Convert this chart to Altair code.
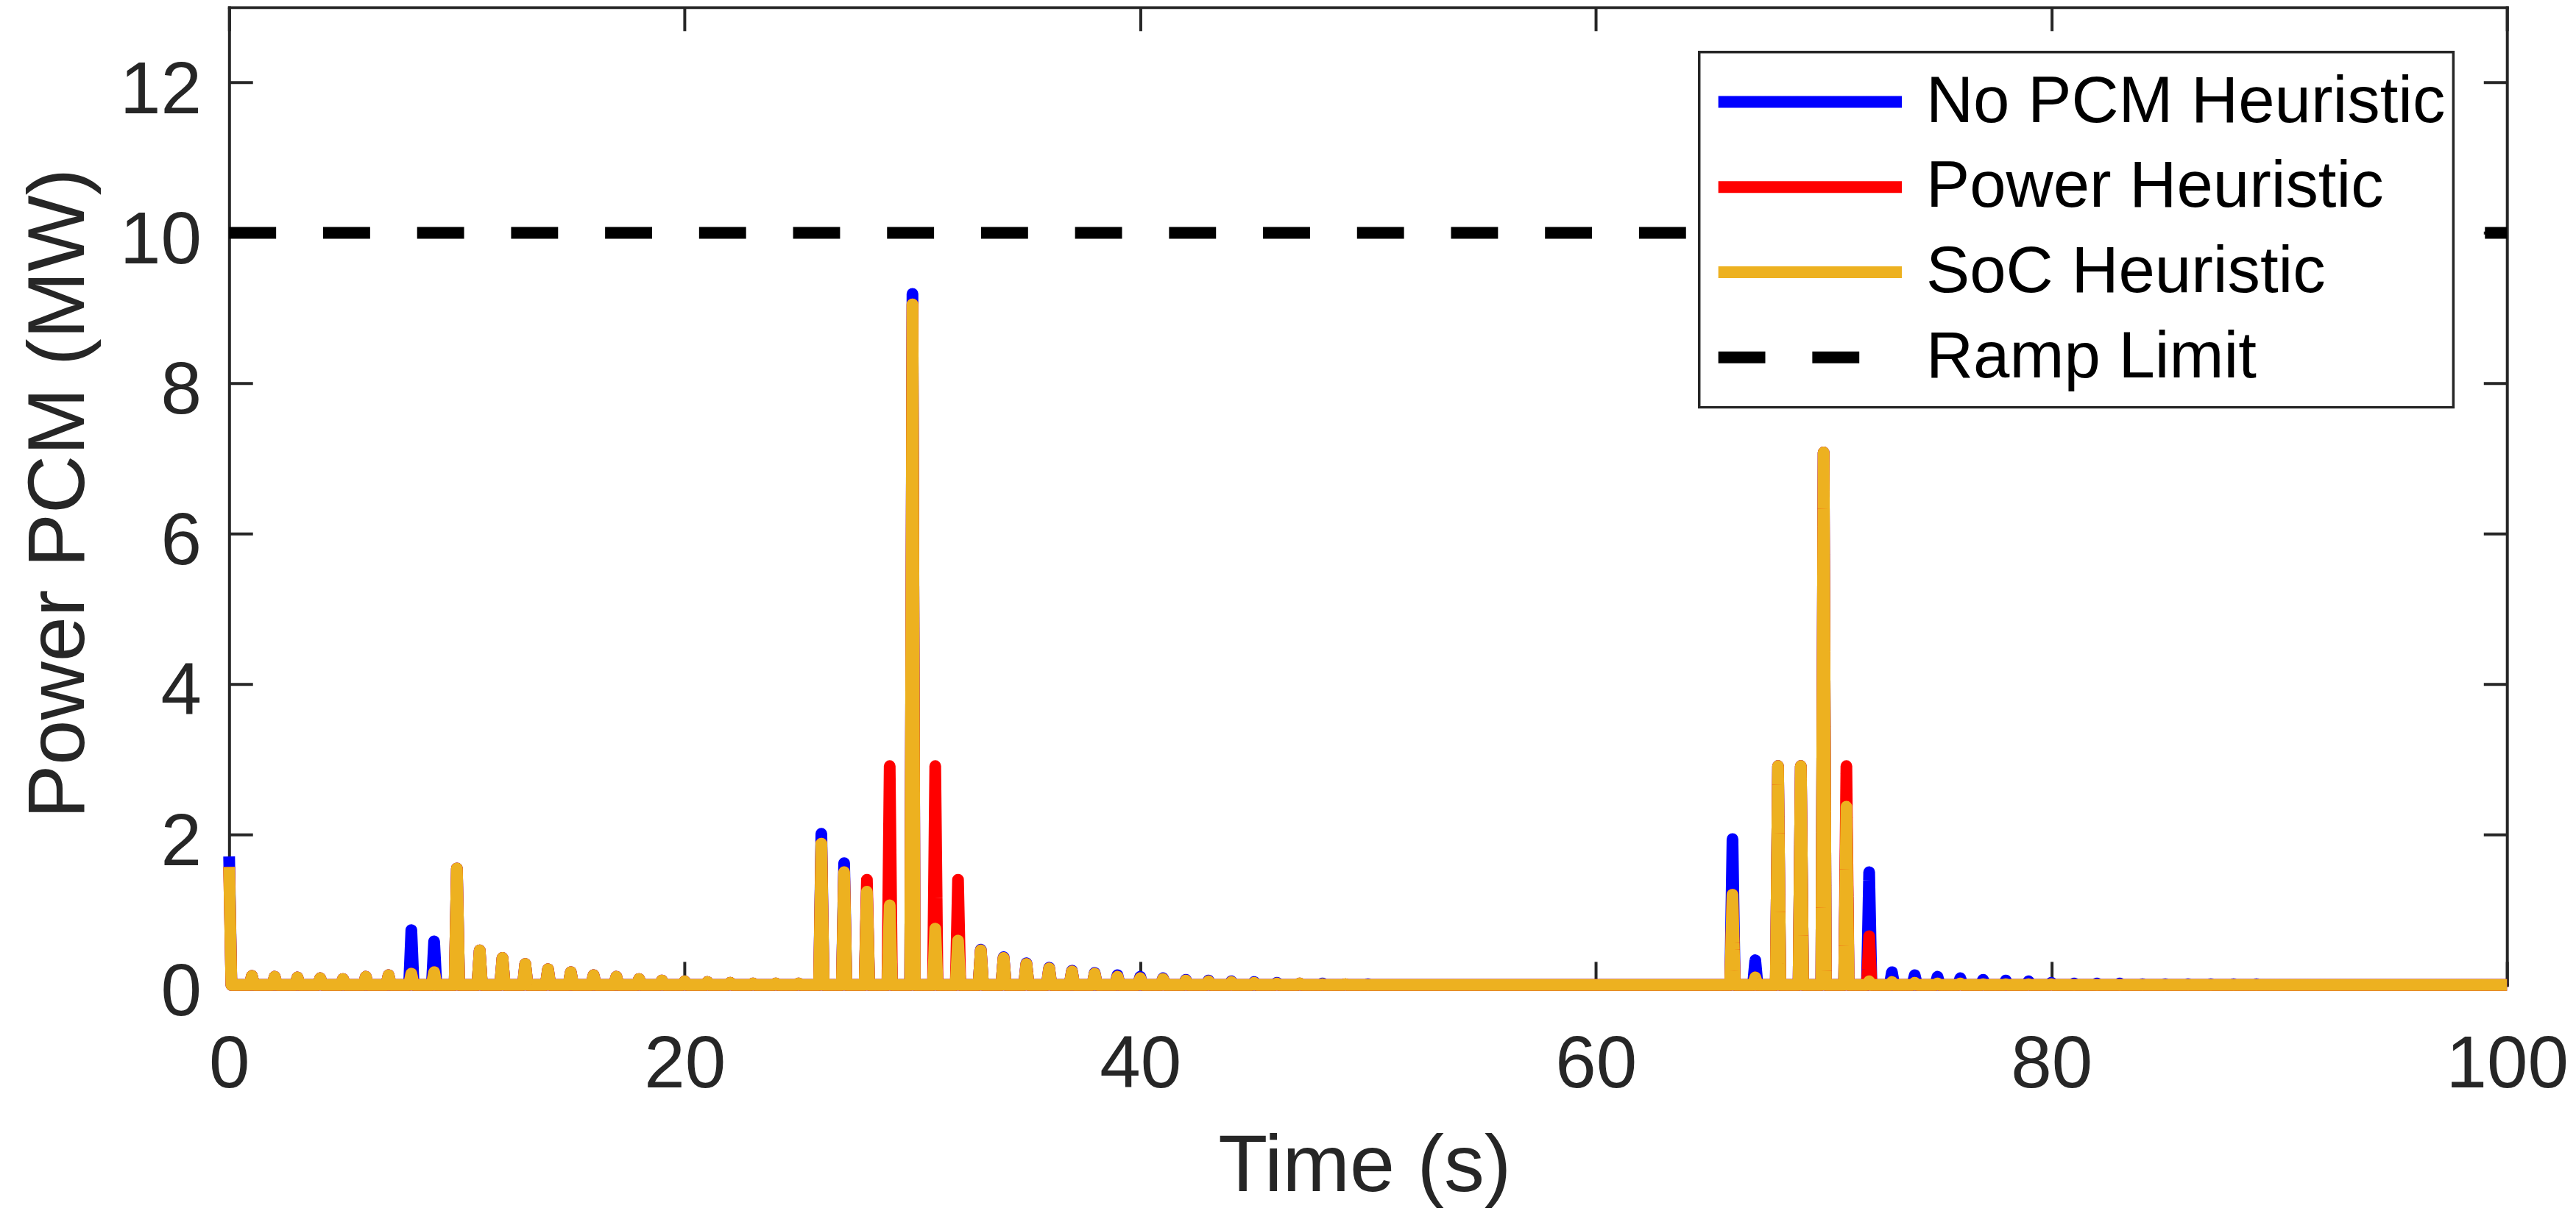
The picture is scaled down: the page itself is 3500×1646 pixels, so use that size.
import altair as alt
import pandas as pd

# ---------------- data ----------------
series_names = ["No PCM Heuristic", "Power Heuristic", "SoC Heuristic", "Ramp Limit"]
series_colors = ["#0000FF", "#FF0000", "#EDB120", "#000000"]
series_dashes = [[1, 0], [1, 0], [1, 0], [64, 64]]

# power pulse (MW) at each whole second t = 0..100; between pulses the power is 0
seconds = list(range(101))

no_pcm = [
    1.71, 0.12, 0.11, 0.10, 0.09, 0.08, 0.11, 0.13, 0.73, 0.58,   # 0-9
    1.55, 0.46, 0.36, 0.28, 0.21, 0.17, 0.13, 0.11, 0.08, 0.06,   # 10-19
    0.05, 0.04, 0.03, 0.02, 0.02, 0.02, 2.01, 1.62, 1.24, 1.06,   # 20-29
    9.19, 0.75, 0.59, 0.47, 0.37, 0.29, 0.23, 0.19, 0.16, 0.13,   # 30-39
    0.11, 0.09, 0.07, 0.06, 0.05, 0.04, 0.03, 0.02, 0.02, 0.01,   # 40-49
    0.01, 0.00, 0.00, 0.00, 0.00, 0.00, 0.00, 0.00, 0.00, 0.00,   # 50-59
    0.00, 0.00, 0.00, 0.00, 0.00, 0.00, 1.94, 0.33, 2.91, 2.91,   # 60-69
    7.08, 2.37, 1.50, 0.17, 0.13, 0.11, 0.09, 0.07, 0.06, 0.05,   # 70-79
    0.03, 0.02, 0.02, 0.02, 0.01, 0.01, 0.01, 0.01, 0.01, 0.01,   # 80-89
    0.00, 0.00, 0.00, 0.00, 0.00, 0.00, 0.00, 0.00, 0.00, 0.00,   # 90-99
    0.00,                                                         # 100
]

power_h = [
    1.57, 0.12, 0.11, 0.10, 0.09, 0.08, 0.11, 0.13, 0.15, 0.17,
    1.55, 0.46, 0.36, 0.28, 0.21, 0.17, 0.13, 0.11, 0.08, 0.06,
    0.05, 0.04, 0.03, 0.02, 0.02, 0.02, 1.88, 1.50, 1.40, 2.91,
    9.05, 2.91, 1.40, 0.46, 0.36, 0.28, 0.22, 0.18, 0.15, 0.11,
    0.09, 0.08, 0.06, 0.05, 0.04, 0.03, 0.02, 0.02, 0.01, 0.01,
    0.00, 0.00, 0.00, 0.00, 0.00, 0.00, 0.00, 0.00, 0.00, 0.00,
    0.00, 0.00, 0.00, 0.00, 0.00, 0.00, 1.20, 0.10, 2.91, 2.91,
    7.08, 2.91, 0.65, 0.04, 0.03, 0.02, 0.02, 0.01, 0.01, 0.01,
    0.01, 0.00, 0.00, 0.00, 0.00, 0.00, 0.00, 0.00, 0.00, 0.00,
    0.00, 0.00, 0.00, 0.00, 0.00, 0.00, 0.00, 0.00, 0.00, 0.00,
    0.00,
]

soc_h = [
    1.57, 0.12, 0.11, 0.10, 0.09, 0.08, 0.11, 0.13, 0.15, 0.17,
    1.55, 0.46, 0.36, 0.28, 0.21, 0.17, 0.13, 0.11, 0.08, 0.06,
    0.05, 0.04, 0.03, 0.02, 0.02, 0.02, 1.88, 1.50, 1.24, 1.06,
    9.05, 0.75, 0.59, 0.46, 0.36, 0.28, 0.22, 0.18, 0.15, 0.11,
    0.09, 0.08, 0.06, 0.05, 0.04, 0.03, 0.02, 0.02, 0.01, 0.01,
    0.00, 0.00, 0.00, 0.00, 0.00, 0.00, 0.00, 0.00, 0.00, 0.00,
    0.00, 0.00, 0.00, 0.00, 0.00, 0.00, 1.20, 0.10, 2.91, 2.91,
    7.08, 2.37, 0.05, 0.04, 0.03, 0.02, 0.02, 0.01, 0.01, 0.01,
    0.01, 0.00, 0.00, 0.00, 0.00, 0.00, 0.00, 0.00, 0.00, 0.00,
    0.00, 0.00, 0.00, 0.00, 0.00, 0.00, 0.00, 0.00, 0.00, 0.00,
    0.00,
]

ramp_limit = 10.0
time_span = [0, 100]
pulse_half_width = 0.1  # sample step of the simulation (s)

x_ticks = [0, 20, 40, 60, 80, 100]
y_ticks = [0, 2, 4, 6, 8, 10, 12]

# ---------------- build tables ----------------
rows = []
for name, vals in zip(series_names[:3], [no_pcm, power_h, soc_h]):
    for k, v in zip(seconds, vals):
        if k > seconds[0]:
            rows.append({"series": name, "t": k - pulse_half_width, "power": 0.0})
        rows.append({"series": name, "t": float(k), "power": v})
        if k < seconds[-1]:
            rows.append({"series": name, "t": k + pulse_half_width, "power": 0.0})
df = pd.DataFrame(rows)

ramp_df = pd.DataFrame([{"series": "Ramp Limit", "t0": time_span[0], "t1": time_span[1], "limit": ramp_limit}])

# ---------------- styling ----------------
FONT = "Liberation Sans"
AX = "#262626"
W, H = 3102, 1332

x_scale = alt.Scale(domain=[0, 100], nice=False, zero=False)
y_scale = alt.Scale(domain=[0, 13], nice=False, zero=False)
color_scale = alt.Scale(domain=series_names, range=series_colors)
dash_scale = alt.Scale(domain=series_names, range=series_dashes)

legend = alt.Legend(title=None, orient="none", legendX=2002, legendY=61, direction="vertical")

frame_common = dict(
    domain=True, domainColor=AX, domainWidth=4, domainCap="square",
    ticks=True, tickSize=32, tickWidth=4, tickColor=AX,
    labels=False, title="", grid=False,
)

x_label_axis = alt.Axis(
    orient="bottom", offset=0, values=x_ticks, domain=False, ticks=False, tickSize=0,
    grid=False, labelFlush=False, labelOverlap=False, labelFont=FONT, labelFontSize=100,
    labelColor=AX, labelPadding=60, labelBaseline="top", labelAlign="center",
    title="Time (s)", titleFont=FONT, titleFontSize=110, titleFontWeight="normal",
    titleColor=AX, titleX=1546, titleY=280, titleBaseline="alphabetic", titleAlign="center",
)
x_bottom_frame = alt.Axis(orient="top", offset=-H, values=x_ticks, **frame_common)
x_top_frame = alt.Axis(orient="bottom", offset=-H, values=x_ticks, **frame_common)

y_label_axis = alt.Axis(
    orient="left", offset=0, values=y_ticks, domain=False, ticks=False, tickSize=0,
    grid=False, labelFlush=False, labelOverlap=False, labelFont=FONT, labelFontSize=100,
    labelColor=AX, labelPadding=38, labelOffset=11, labelAlign="right", labelBaseline="middle",
    title="Power PCM (MW)", titleFont=FONT, titleFontSize=110, titleFontWeight="normal",
    titleColor=AX, titleX=-198, titleY=662, titleAngle=270, titleBaseline="alphabetic",
    titleAlign="center",
)
y_left_frame = alt.Axis(orient="right", offset=-W, values=y_ticks, **frame_common)
y_right_frame = alt.Axis(orient="left", offset=-W, values=y_ticks, **frame_common)


def line_layer(name, xa, ya):
    return (
        alt.Chart(df)
        .transform_filter(alt.datum.series == name)
        .mark_line(strokeWidth=16, strokeCap="butt", strokeJoin="round", clip=False)
        .encode(
            x=alt.X("t:Q", scale=x_scale, axis=xa),
            y=alt.Y("power:Q", scale=y_scale, axis=ya),
            color=alt.Color("series:N", scale=color_scale, legend=legend),
            strokeDash=alt.StrokeDash("series:N", scale=dash_scale, legend=legend),
        )
    )


ramp = (
    alt.Chart(ramp_df)
    .mark_rule(strokeWidth=16, strokeCap="butt")
    .encode(
        x=alt.X("t0:Q", scale=x_scale, axis=None),
        x2="t1:Q",
        y=alt.Y("limit:Q", scale=y_scale, axis=None),
        color=alt.Color("series:N", scale=color_scale, legend=legend),
        strokeDash=alt.StrokeDash("series:N", scale=dash_scale, legend=legend),
    )
)

blue = line_layer("No PCM Heuristic", x_label_axis, y_label_axis)
red = line_layer("Power Heuristic", x_bottom_frame, y_left_frame)
yellow = line_layer("SoC Heuristic", x_top_frame, y_right_frame)

chart = (
    alt.layer(ramp, blue, red, yellow)
    .resolve_axis(x="independent", y="independent")
    .properties(
        width=W, height=H,
        padding={"left": 304, "top": 0, "right": 86, "bottom": 306},
        autosize=alt.AutoSizeParams(type="none"),
        background="white",
    )
    .configure_view(stroke="transparent")
    .configure_legend(
        padding=10, strokeColor=AX, strokeWidth=3.5, fillColor="white",
        clipHeight=116, rowPadding=0, symbolOffset=8, labelOffset=25,
        symbolSize=62500, symbolStrokeWidth=16, symbolType="stroke",
        labelFont=FONT, labelFontSize=89, labelColor="black", labelLimit=3000,
        zindex=1,
    )
)

chart.save("out.html", embed_options={"renderer": "svg", "actions": False})
